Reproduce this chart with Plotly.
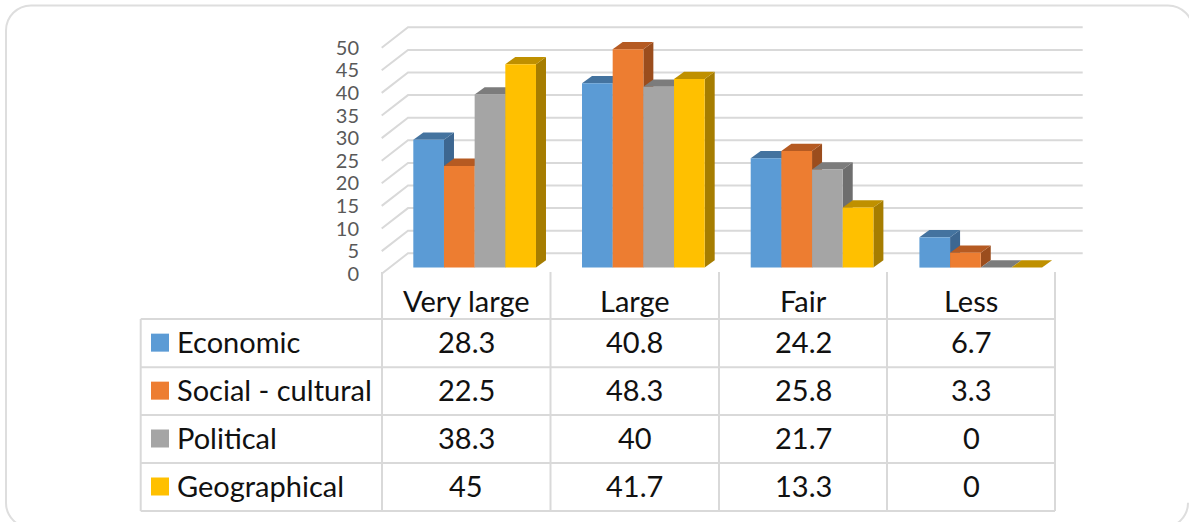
import plotly.graph_objects as go

W, H = 1189, 522
categories = ["Very large", "Large", "Fair", "Less"]
series_names = ["Economic", "Social - cultural", "Political", "Geographical"]
economic = [28.3, 40.8, 24.2, 6.7]
social_cultural = [22.5, 48.3, 25.8, 3.3]
political = [38.3, 40, 21.7, 0]
geographical = [45, 41.7, 13.3, 0]
series_values = [economic, social_cultural, political, geographical]
y_ticks = list(range(0, 55, 5))

front = ["#5B9BD5", "#ED7D31", "#A5A5A5", "#FFC000"]
top = ["#44739F", "#B55A22", "#7C7C7C", "#BF9000"]
side = ["#3D6791", "#9B4D1D", "#6E6E6E", "#A67D00"]
GRID = "#D9D9D9"

# pixel calibration of the chart
PX_PER_UNIT = 4.52
GROUP_PX = 168.7
X0_PX = 474.65      # centre of first group
BAR_BASE_PX = 267.6
WALL_BASE_PX = 273.7
BAR_PX = 30.67

xrange_ = [(0 - X0_PX) / GROUP_PX, (W - X0_PX) / GROUP_PX]
yrange_wall = [(WALL_BASE_PX - H) / PX_PER_UNIT, WALL_BASE_PX / PX_PER_UNIT]
yrange_bar = [(BAR_BASE_PX - H) / PX_PER_UNIT, BAR_BASE_PX / PX_PER_UNIT]

BAR_LIFT = (WALL_BASE_PX - BAR_BASE_PX) / PX_PER_UNIT
DEPTH_DX = 10 / GROUP_PX
DEPTH_DY = 7.3 / PX_PER_UNIT
BAR_W = BAR_PX / GROUP_PX

fig = go.Figure()

# gridlines on back + side wall
wx0 = (381.7 - X0_PX) / GROUP_PX
wx1 = (408 - X0_PX) / GROUP_PX
wx2 = (1082.7 - X0_PX) / GROUP_PX
wdy = 20.4 / PX_PER_UNIT
gx, gy = [], []
for t in y_ticks:
    gx += [wx0, wx1, wx2, None]
    gy += [t, t + wdy, t + wdy, None]
fig.add_trace(go.Scatter(x=gx, y=gy, mode="lines", line=dict(color=GRID, width=2),
                         hoverinfo="skip", showlegend=False))

# side and top faces, under the fronts
for s, vals in enumerate(series_values):
    for c, v in enumerate(vals):
        xl = c + (s - 2) * BAR_W
        xr = xl + BAR_W
        b = v + BAR_LIFT
        base = BAR_LIFT
        fig.add_trace(go.Scatter(
            x=[xr, xr + DEPTH_DX, xr + DEPTH_DX, xr, xr],
            y=[base, base + DEPTH_DY, b + DEPTH_DY, b, base],
            mode="lines", fill="toself", fillcolor=side[s], line=dict(width=0),
            hoverinfo="skip", showlegend=False))
        fig.add_trace(go.Scatter(
            x=[xl, xr, xr + DEPTH_DX, xl + DEPTH_DX, xl],
            y=[b, b, b + DEPTH_DY, b + DEPTH_DY, b],
            mode="lines", fill="toself", fillcolor=top[s], line=dict(width=0),
            hoverinfo="skip", showlegend=False))

# front faces
for s, vals in enumerate(series_values):
    fig.add_trace(go.Bar(x=list(range(len(categories))), y=vals, name=series_names[s],
                         marker=dict(color=front[s], line=dict(width=0)),
                         yaxis="y2", showlegend=False))

shapes = []
def px(x): return x / W
def py(y): return 1 - y / H
def line(x0, y0, x1, y1, color=GRID, width=2):
    shapes.append(dict(type="line", xref="paper", yref="paper", x0=px(x0), y0=py(y0),
                       x1=px(x1), y1=py(y1), line=dict(color=color, width=width), layer="below"))

# rounded frame (two open runs: the right edge falls outside the picture)
K = 0.5523
def P(x, y): return f"{px(x):.5f},{py(y):.5f}"
def corner(x0, y0, cx0, cy0, cx1, cy1, x1, y1):
    return f"C{P(cx0, cy0)} {P(cx1, cy1)} {P(x1, y1)} "
fx0, fy0, r = 6, 5.5, 25
frx_top, frx_bot, fby = 1193, 1188, 527.7
path = f"M{P(frx_bot, fby - r)} "
path += corner(frx_bot, fby - r, frx_bot, fby - r + K * r, frx_bot - r + K * r, fby, frx_bot - r, fby)
path += f"L{P(fx0 + r, fby)} "
path += corner(fx0 + r, fby, fx0 + r - K * r, fby, fx0, fby - r + K * r, fx0, fby - r)
path += f"L{P(fx0, fy0 + r)} "
path += corner(fx0, fy0 + r, fx0, fy0 + r - K * r, fx0 + r - K * r, fy0, fx0 + r, fy0)
path += f"L{P(frx_top - r, fy0)} "
path += corner(frx_top - r, fy0, frx_top - r + K * r, fy0, frx_top, fy0 + r - K * r, frx_top, fy0 + r)
shapes.append(dict(type="path", xref="paper", yref="paper", path=path,
                   line=dict(color="#DEDEDE", width=2), layer="below"))

# table
col_x = [382, 550.5, 719, 887, 1055]
row_y = [319, 367.3, 415, 463, 511]
left_x = 140.7
for x in col_x:
    line(x, 272, x, row_y[-1])
line(left_x, row_y[0], left_x, row_y[-1])
for y in row_y:
    line(left_x, y, col_x[-1], y)

ann = []
TXT = dict(family="Lato", size=29, color="#111111")
def text(x, y, s, anchor="center"):
    ann.append(dict(xref="paper", yref="paper", x=px(x), y=py(y - 1.5), text=s, showarrow=False,
                    xanchor=anchor, yanchor="middle", font=TXT))
for c, name in enumerate(categories):
    text((col_x[c] + col_x[c + 1]) / 2, 302, name)
for s, name in enumerate(series_names):
    yc = (row_y[s] + row_y[s + 1]) / 2 - 0.5
    shapes.append(dict(type="rect", xref="paper", yref="paper", x0=px(151), x1=px(169),
                       y0=py(yc - 9), y1=py(yc + 9), fillcolor=front[s], line=dict(width=0)))
    text(174.5, yc, name, "left")
    for c in range(len(categories)):
        text((col_x[c] + col_x[c + 1]) / 2, yc, f"{series_values[s][c]:g}")

fig.update_layout(
    width=W, height=H, autosize=False,
    margin=dict(l=0, r=0, t=0, b=0),
    paper_bgcolor="white", plot_bgcolor="rgba(0,0,0,0)",
    barmode="group", bargap=1 - 4 * BAR_W, bargroupgap=0,
    xaxis=dict(range=xrange_, visible=False, fixedrange=True),
    yaxis=dict(range=yrange_wall, tickvals=y_ticks, showgrid=False, zeroline=False,
               showline=False, ticks="", anchor="free", position=359 / W,
               tickfont=dict(family="Lato", size=20, color="#595959"), fixedrange=True),
    yaxis2=dict(range=yrange_bar, overlaying="y", visible=False, fixedrange=True),
    shapes=shapes, annotations=ann, hovermode=False,
)
fig.write_html("out.html", config={"displayModeBar": False, "responsive": False},
               post_script="document.body.style.margin='0';document.documentElement.style.overflow='hidden';")
